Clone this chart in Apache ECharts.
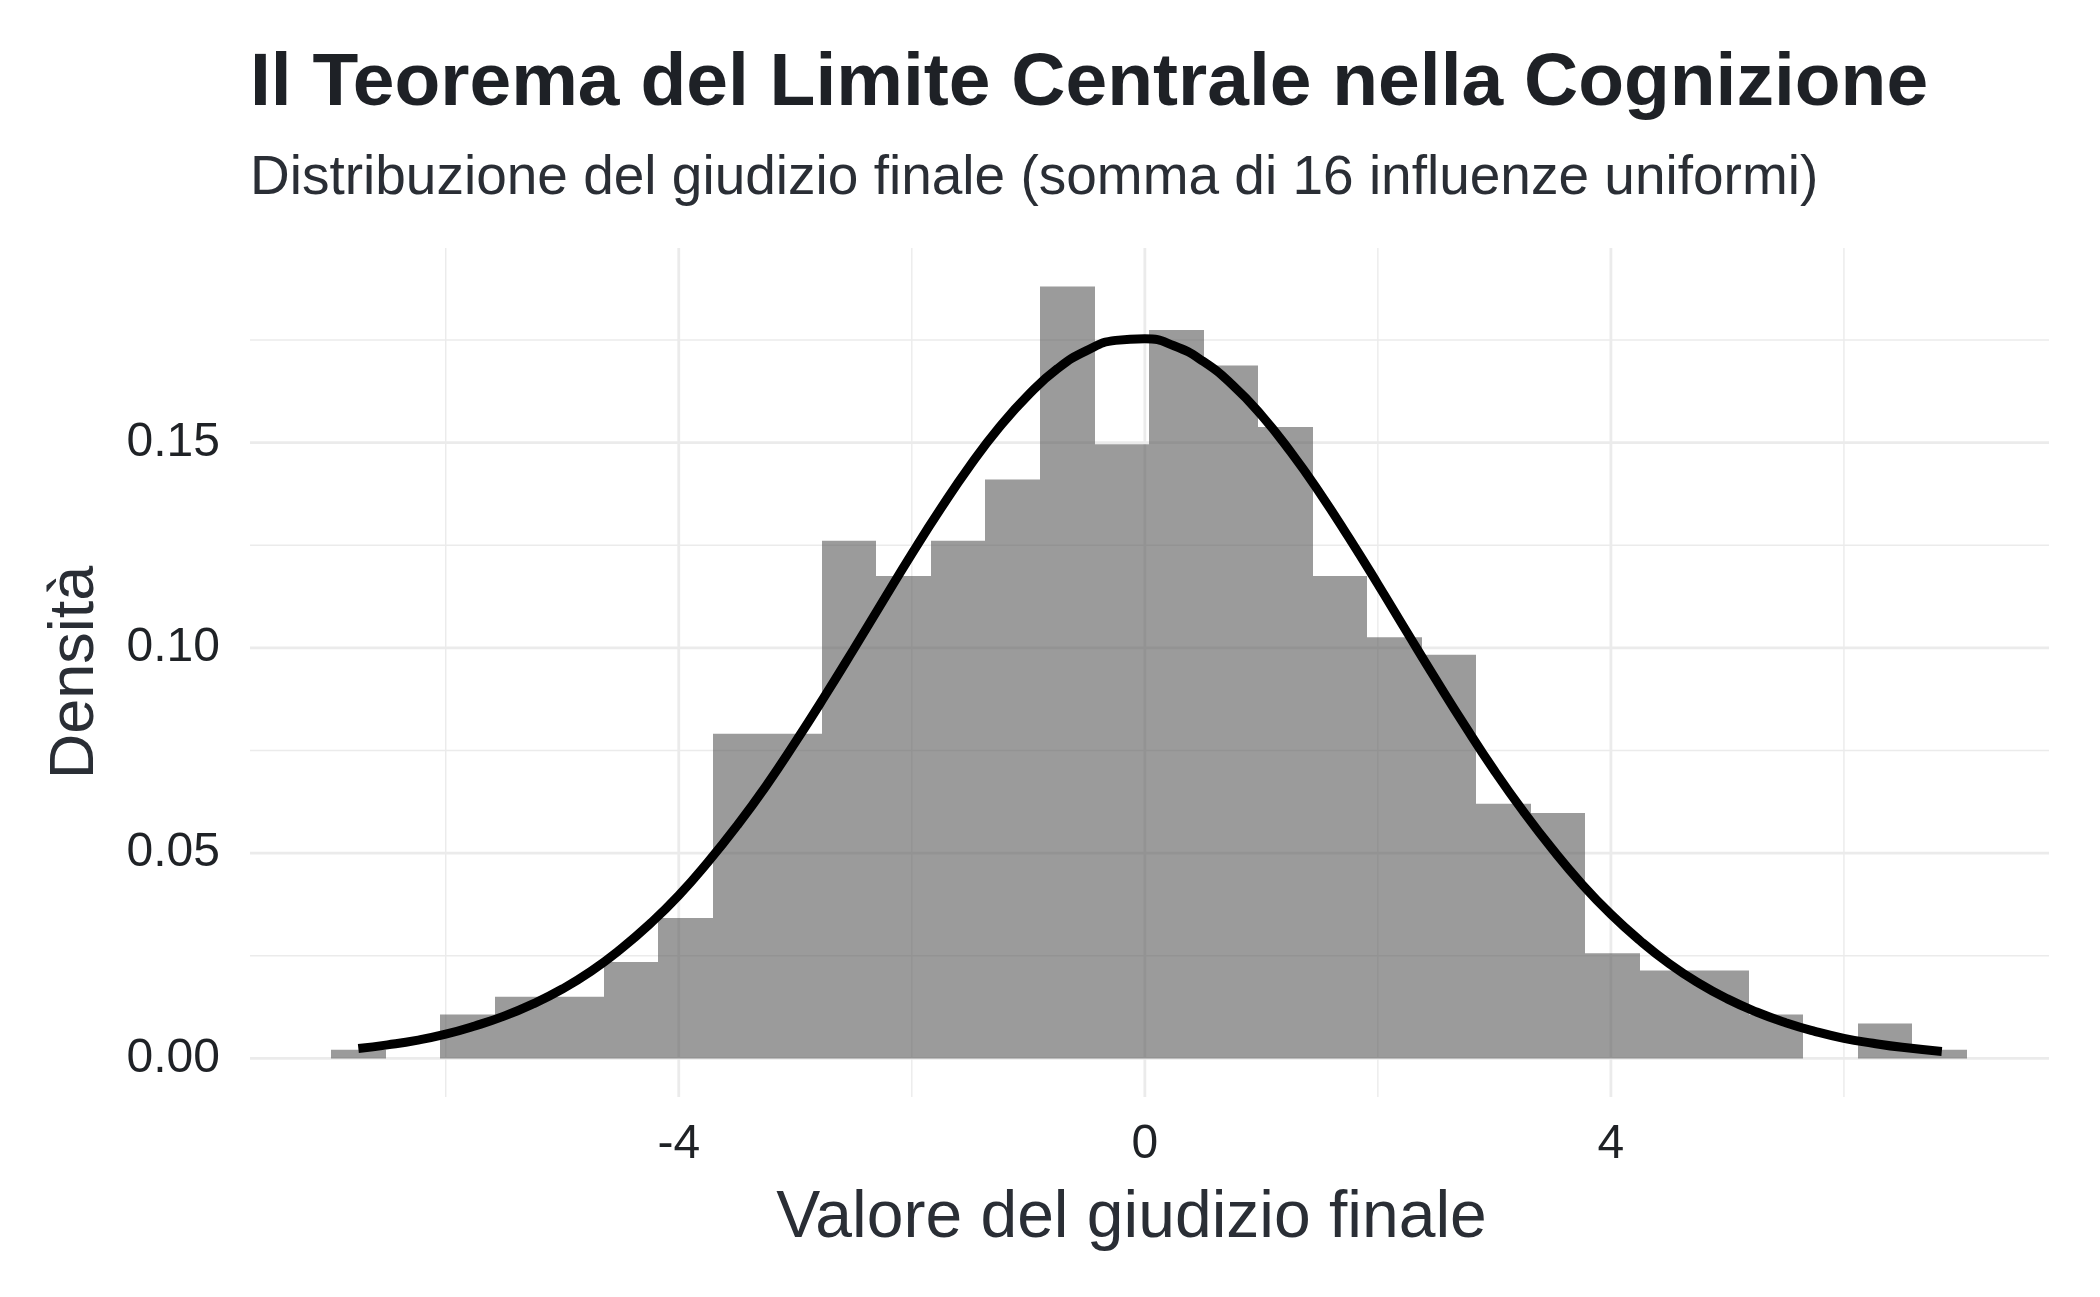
<!DOCTYPE html>
<html><head><meta charset="utf-8">
<script src="https://cdn.jsdelivr.net/npm/echarts@6/dist/echarts.min.js"></script>
<style>html,body{margin:0;padding:0;background:#fff}#c{width:2100px;height:1297px}</style>
</head><body><div id="c"></div>
<script>
// ---- text ----
const titleText = 'Il Teorema del Limite Centrale nella Cognizione';
const subtitleText = 'Distribuzione del giudizio finale (somma di 16 influenze uniformi)';
const xAxisTitle = 'Valore del giudizio finale';
const yAxisTitle = 'Densità';

// ---- histogram (30 bins) ----
const binStart = -6.984;
const binWidth = 0.468;
const binDensity = [0.0021, 0, 0.0107, 0.0150, 0.0150, 0.0235, 0.0342, 0.0791, 0.0791, 0.1261,
                    0.1175, 0.1261, 0.1410, 0.1880, 0.1496, 0.1774, 0.1688, 0.1538, 0.1175, 0.1026,
                    0.0983, 0.0620, 0.0598, 0.0256, 0.0214, 0.0214, 0.0107, 0, 0.0085, 0.0021];

// ---- normal curve ----
const curveX = [-6.75, -6.5, -6.25, -6.0, -5.75, -5.5, -5.25, -5.0, -4.75, -4.5, -4.25, -4.0, -3.75, -3.5,
                -3.25, -3.0, -2.75, -2.5, -2.25, -2.0, -1.75, -1.5, -1.25, -1.0, -0.75, -0.5, -0.25, 0.0,
                0.25, 0.5, 0.75, 1.0, 1.25, 1.5, 1.75, 2.0, 2.25, 2.5, 2.75, 3.0, 3.25, 3.5,
                3.75, 4.0, 4.25, 4.5, 4.75, 5.0, 5.25, 5.5, 5.75, 6.0, 6.25, 6.5, 6.84];
const curveY = [0.0024, 0.0033, 0.0044, 0.0059, 0.0079, 0.0103, 0.0133, 0.0169, 0.0213, 0.0266, 0.0327, 0.0397, 0.0478, 0.0567,
                0.0664, 0.0770, 0.0881, 0.0996, 0.1113, 0.1229, 0.1340, 0.1444, 0.1537, 0.1616, 0.1680, 0.1724, 0.1749, 0.1753,
                0.1736, 0.1698, 0.1641, 0.1567, 0.1478, 0.1378, 0.1269, 0.1155, 0.1038, 0.0922, 0.0809, 0.0701, 0.0601, 0.0509,
                0.0425, 0.0351, 0.0287, 0.0231, 0.0184, 0.0145, 0.0113, 0.0087, 0.0066, 0.0049, 0.0037, 0.0027, 0.0017];

// ---- ticks ----
const xTicks = [-4, 0, 4];
const xTickLabels = ['-4', '0', '4'];
const xMinorTicks = [-6, -2, 2, 6];
const yTicks = [0, 0.05, 0.10, 0.15];
const yTickLabels = ['0.00', '0.05', '0.10', '0.15'];
const yMinorTicks = [0.025, 0.075, 0.125, 0.175];

const FONT = '"Liberation Sans", Arial, Helvetica, sans-serif';
const GRID = '#EBEBEB';

function lookup(ticks, labels, v) {
  for (let i = 0; i < ticks.length; i++) if (Math.abs(ticks[i] - v) < 1e-9) return labels[i];
  return '';
}

const histData = binDensity.map((d, i) => [binStart + i * binWidth, binStart + (i + 1) * binWidth, d]);
const curveData = curveX.map((x, i) => [x, curveY[i]]);

function vGridSeries(ticks, width) {
  return {
    type: 'custom', silent: true, z: 1, data: ticks.map(v => [v, 0]), encode: { x: 0, y: 1 },
    renderItem: function (params, api) {
      const cs = params.coordSys;
      const x = api.coord([api.value(0), 0])[0];
      return { type: 'line', shape: { x1: x, y1: cs.y, x2: x, y2: cs.y + cs.height },
        style: { stroke: GRID, lineWidth: width } };
    }
  };
}
function hGridSeries(ticks, width) {
  return {
    type: 'custom', silent: true, z: 1, data: ticks.map(v => [0, v]), encode: { x: 0, y: 1 },
    renderItem: function (params, api) {
      const cs = params.coordSys;
      const y = api.coord([0, api.value(1)])[1];
      return { type: 'line', shape: { x1: cs.x, y1: y, x2: cs.x + cs.width, y2: y },
        style: { stroke: GRID, lineWidth: width } };
    }
  };
}

const chart = echarts.init(document.getElementById('c'), null, { renderer: 'canvas' });
chart.setOption({
  animation: false,
  backgroundColor: '#ffffff',
  textStyle: { fontFamily: FONT },
  title: [
    { text: titleText, left: 250, top: 47, padding: 0,
      textStyle: { fontFamily: FONT, fontSize: 75, fontWeight: 'bold', color: '#1e2126', lineHeight: 75 } },
    { text: subtitleText, left: 250, top: 151, padding: 0,
      textStyle: { fontFamily: FONT, fontSize: 55, fontWeight: 'normal', color: '#2a2e35', lineHeight: 55 } }
  ],
  grid: { left: 250, right: 51, top: 248, bottom: 200, containLabel: false },
  xAxis: {
    type: 'value', min: -7.68, max: 7.76,
    axisLine: { show: false }, axisTick: { show: false }, splitLine: { show: false },
    axisLabel: { customValues: xTicks, formatter: v => lookup(xTicks, xTickLabels, v),
      fontFamily: FONT, fontSize: 48, lineHeight: 48, color: '#1f2226', margin: 24 },
    name: xAxisTitle, nameLocation: 'middle', nameGap: 89,
    nameTextStyle: { fontFamily: FONT, fontSize: 66, lineHeight: 66, color: '#2a2e35', padding: [0, 36, 0, 0] }
  },
  yAxis: {
    type: 'value', min: -0.0094, max: 0.1974,
    axisLine: { show: false }, axisTick: { show: false }, splitLine: { show: false },
    axisLabel: { customValues: yTicks, formatter: v => lookup(yTicks, yTickLabels, v),
      fontFamily: FONT, fontSize: 48, lineHeight: 48, color: '#1f2226', margin: 30 },
    name: yAxisTitle, nameLocation: 'middle', nameGap: 143,
    nameTextStyle: { fontFamily: FONT, fontSize: 63, lineHeight: 63, color: '#2a2e35' }
  },
  series: [
    vGridSeries(xMinorTicks, 1.4),
    hGridSeries(yMinorTicks, 1.4),
    vGridSeries(xTicks, 2.8),
    hGridSeries(yTicks, 2.8),
    { type: 'custom', name: 'hist', z: 2, data: histData, encode: { x: [0, 1], y: 2 },
      renderItem: function (params, api) {
        const x0 = api.value(0), x1 = api.value(1), d = api.value(2);
        if (!(d > 0)) return { type: 'group', children: [] };
        const p0 = api.coord([x0, d]);
        const p1 = api.coord([x1, 0]);
        const l = Math.round(p0[0]), r = Math.round(p1[0]);
        return { type: 'rect', shape: { x: l, y: p0[1], width: r - l, height: p1[1] - p0[1] },
          style: { fill: 'rgba(89,89,89,0.6)' } };
      } },
    { type: 'line', name: 'normal', z: 3, data: curveData, showSymbol: false, smooth: true,
      lineStyle: { color: '#000000', width: 9, cap: 'butt' } }
  ]
});
</script></body></html>
